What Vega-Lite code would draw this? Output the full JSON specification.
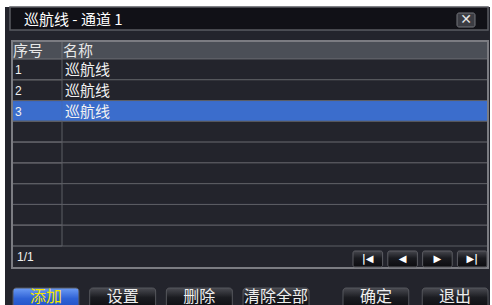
{
  "$schema": "https://vega.github.io/schema/vega-lite/v6.json",
  "width": 485,
  "height": 298,
  "autosize": {"type": "none"},
  "padding": {"left": 5, "top": 7, "right": 2, "bottom": 0},
  "background": "#ffffff",
  "view": {"fill": "#23242c", "stroke": null},
  "config": {"text": {"font": "Noto Sans CJK SC"}},
  "datasets": {
    "title": [{"text": "巡航线 - 通道 1"}],
    "close": [{"label": "✕"}],
    "header": [{"no": "序号", "name": "名称"}],
    "rows": [
      {"row": "1", "no": "1", "name": "巡航线", "selected": false},
      {"row": "2", "no": "2", "name": "巡航线", "selected": false},
      {"row": "3", "no": "3", "name": "巡航线", "selected": true},
      {"row": "4", "no": "", "name": "", "selected": false},
      {"row": "5", "no": "", "name": "", "selected": false},
      {"row": "6", "no": "", "name": "", "selected": false},
      {"row": "7", "no": "", "name": "", "selected": false},
      {"row": "8", "no": "", "name": "", "selected": false},
      {"row": "9", "no": "", "name": "", "selected": false}
    ],
    "pager": [{"page": "1/1"}],
    "nav": [
      {"btn": "first", "glyph": "|◀"},
      {"btn": "prev", "glyph": "◀"},
      {"btn": "next", "glyph": "▶"},
      {"btn": "last", "glyph": "▶|"}
    ],
    "buttons": [
      {"label": "添加", "selected": true},
      {"label": "设置", "selected": false},
      {"label": "删除", "selected": false},
      {"label": "清除全部", "selected": false},
      {"label": "确定", "selected": false},
      {"label": "退出", "selected": false}
    ]
  },
  "resolve": {"scale": {"x": "independent", "y": "independent"}},
  "layer": [
    {
      "data": {"name": "title"},
      "layer": [
        {
          "mark": {"type": "rect", "fill": "#111117", "stroke": "#5a5b62", "strokeWidth": 1.5},
          "encoding": {
            "x": {"datum": "bar", "type": "nominal", "axis": null, "scale": {"type": "band", "domain": ["bar"], "range": [5, 483], "paddingInner": 0, "paddingOuter": 0}},
            "y": {"datum": "bar", "type": "nominal", "axis": null, "scale": {"type": "band", "domain": ["bar"], "range": [0, 23], "paddingInner": 0, "paddingOuter": 0}}
          }
        },
        {
          "mark": {"type": "text", "align": "left", "baseline": "middle", "dx": 14, "dy": 1, "fontSize": 15, "fill": "#ffffff"},
          "encoding": {
            "x": {"datum": "bar", "type": "nominal", "axis": null, "bandPosition": 0, "scale": {"type": "band", "domain": ["bar"], "range": [5, 483], "paddingInner": 0, "paddingOuter": 0}},
            "y": {"datum": "bar", "type": "nominal", "axis": null, "scale": {"type": "band", "domain": ["bar"], "range": [0, 23], "paddingInner": 0, "paddingOuter": 0}},
            "text": {"field": "text"}
          }
        }
      ]
    },
    {
      "data": {"name": "close"},
      "layer": [
        {
          "mark": {"type": "rect", "fill": "#3b3c43", "stroke": "#75767c", "strokeWidth": 1, "cornerRadius": 2},
          "encoding": {
            "x": {"datum": "c", "type": "nominal", "axis": null, "scale": {"type": "band", "domain": ["c"], "range": [452, 470], "paddingInner": 0, "paddingOuter": 0}},
            "y": {"datum": "c", "type": "nominal", "axis": null, "scale": {"type": "band", "domain": ["c"], "range": [6, 20], "paddingInner": 0, "paddingOuter": 0}}
          }
        },
        {
          "mark": {"type": "text", "align": "center", "baseline": "middle", "fontSize": 14, "fontWeight": "bold", "font": "DejaVu Sans", "fill": "#e6e6e6"},
          "encoding": {
            "x": {"datum": "c", "type": "nominal", "axis": null, "scale": {"type": "band", "domain": ["c"], "range": [452, 470], "paddingInner": 0, "paddingOuter": 0}},
            "y": {"datum": "c", "type": "nominal", "axis": null, "scale": {"type": "band", "domain": ["c"], "range": [6, 20], "paddingInner": 0, "paddingOuter": 0}},
            "text": {"field": "label"}
          }
        }
      ]
    },
    {
      "data": {"name": "header"},
      "resolve": {"scale": {"x": "independent"}},
      "encoding": {
        "y": {"datum": "h", "type": "nominal", "axis": null, "scale": {"type": "band", "domain": ["h"], "range": [34, 52], "paddingInner": 0, "paddingOuter": 0}}
      },
      "layer": [
        {
          "mark": {"type": "rect", "fill": "#4b4f57", "stroke": "#6e7076", "strokeWidth": 1},
          "encoding": {
            "x": {"datum": "t", "type": "nominal", "axis": null, "scale": {"type": "band", "domain": ["t"], "range": [7, 483], "paddingInner": 0, "paddingOuter": 0}}
          }
        },
        {
          "mark": {"type": "rect", "fillOpacity": 0, "stroke": "#6e7076", "strokeWidth": 1},
          "encoding": {
            "x": {"datum": "c1", "type": "nominal", "axis": null, "scale": {"type": "band", "domain": ["c1"], "range": [7, 57], "paddingInner": 0, "paddingOuter": 0}}
          }
        },
        {
          "mark": {"type": "text", "align": "left", "baseline": "middle", "dx": 1, "dy": 1, "fontSize": 15, "fill": "#e8e8e8"},
          "encoding": {
            "x": {"datum": "c1", "type": "nominal", "axis": null, "bandPosition": 0, "scale": {"type": "band", "domain": ["c1"], "range": [7, 57], "paddingInner": 0, "paddingOuter": 0}},
            "text": {"field": "no"}
          }
        },
        {
          "mark": {"type": "text", "align": "left", "baseline": "middle", "dx": 1, "dy": 1, "fontSize": 15, "fill": "#e8e8e8"},
          "encoding": {
            "x": {"datum": "c2", "type": "nominal", "axis": null, "bandPosition": 0, "scale": {"type": "band", "domain": ["c2"], "range": [57, 483], "paddingInner": 0, "paddingOuter": 0}},
            "text": {"field": "name"}
          }
        }
      ]
    },
    {
      "data": {"name": "rows"},
      "resolve": {"scale": {"x": "independent"}},
      "encoding": {
        "y": {"field": "row", "type": "nominal", "axis": null, "scale": {"type": "band", "domain": ["1", "2", "3", "4", "5", "6", "7", "8", "9"], "range": [52, 239], "paddingInner": 0, "paddingOuter": 0}}
      },
      "layer": [
        {
          "mark": {"type": "rect", "stroke": "#5d5e64", "strokeWidth": 1},
          "encoding": {
            "x": {"datum": "t", "type": "nominal", "axis": null, "scale": {"type": "band", "domain": ["t"], "range": [7, 483], "paddingInner": 0, "paddingOuter": 0}},
            "fill": {"condition": {"test": "datum.selected", "value": "#3b6dcc"}, "value": "#23242c"}
          }
        },
        {
          "mark": {"type": "rect", "fillOpacity": 0, "stroke": "#5d5e64", "strokeWidth": 1},
          "encoding": {
            "x": {"datum": "c1", "type": "nominal", "axis": null, "scale": {"type": "band", "domain": ["c1"], "range": [7, 57], "paddingInner": 0, "paddingOuter": 0}},
            "strokeOpacity": {"condition": {"test": "datum.selected", "value": 0.2}, "value": 1}
          }
        },
        {
          "mark": {"type": "text", "align": "left", "baseline": "middle", "dx": 3, "dy": 1, "fontSize": 12, "font": "Liberation Sans", "fill": "#f2f2f2"},
          "encoding": {
            "x": {"datum": "c1", "type": "nominal", "axis": null, "bandPosition": 0, "scale": {"type": "band", "domain": ["c1"], "range": [7, 57], "paddingInner": 0, "paddingOuter": 0}},
            "text": {"field": "no"}
          }
        },
        {
          "mark": {"type": "text", "align": "left", "baseline": "middle", "dx": 3, "dy": 1, "fontSize": 15, "fill": "#f2f2f2"},
          "encoding": {
            "x": {"datum": "c2", "type": "nominal", "axis": null, "bandPosition": 0, "scale": {"type": "band", "domain": ["c2"], "range": [57, 483], "paddingInner": 0, "paddingOuter": 0}},
            "text": {"field": "name"}
          }
        }
      ]
    },
    {
      "data": {"name": "pager"},
      "layer": [
        {
          "mark": {"type": "rect", "fillOpacity": 0, "stroke": "#7b7c82", "strokeWidth": 2},
          "encoding": {
            "x": {"datum": "t", "type": "nominal", "axis": null, "scale": {"type": "band", "domain": ["t"], "range": [7, 483], "paddingInner": 0, "paddingOuter": 0}},
            "y": {"datum": "t", "type": "nominal", "axis": null, "scale": {"type": "band", "domain": ["t"], "range": [34, 261], "paddingInner": 0, "paddingOuter": 0}}
          }
        }
      ]
    },
    {
      "data": {"name": "pager"},
      "layer": [
        {
          "mark": {"type": "text", "align": "left", "baseline": "middle", "dx": 5, "fontSize": 12, "font": "Liberation Sans", "fill": "#f2f2f2"},
          "encoding": {
            "x": {"datum": "f", "type": "nominal", "axis": null, "bandPosition": 0, "scale": {"type": "band", "domain": ["f"], "range": [7, 483], "paddingInner": 0, "paddingOuter": 0}},
            "y": {"datum": "f", "type": "nominal", "axis": null, "scale": {"type": "band", "domain": ["f"], "range": [239, 261], "paddingInner": 0, "paddingOuter": 0}},
            "text": {"field": "page"}
          }
        }
      ]
    },
    {
      "data": {"name": "nav"},
      "encoding": {
        "x": {"field": "btn", "type": "nominal", "axis": null, "scale": {"type": "band", "domain": ["first", "prev", "next", "last"], "range": [348, 482], "paddingInner": 0.15, "paddingOuter": 0}},
        "y": {"datum": "n", "type": "nominal", "axis": null, "scale": {"type": "band", "domain": ["n"], "range": [244, 260], "paddingInner": 0, "paddingOuter": 0}}
      },
      "layer": [
        {
          "mark": {"type": "rect", "cornerRadius": 2, "stroke": "#5c5d63", "strokeWidth": 1,
            "fill": {"gradient": "linear", "x1": 0, "y1": 0, "x2": 0, "y2": 1, "stops": [{"offset": 0, "color": "#45464d"}, {"offset": 0.45, "color": "#1a1b20"}, {"offset": 1, "color": "#0c0c10"}]}}
        },
        {
          "mark": {"type": "text", "align": "center", "baseline": "middle", "fontSize": 10, "fontWeight": "bold", "font": "DejaVu Sans", "fill": "#ffffff"},
          "encoding": {"text": {"field": "glyph"}}
        }
      ]
    },
    {
      "data": {"name": "buttons"},
      "transform": [{"filter": {"field": "label", "oneOf": ["添加", "设置", "删除", "清除全部"]}}],
      "encoding": {
        "x": {"field": "label", "type": "nominal", "axis": null, "scale": {"type": "band", "domain": ["添加", "设置", "删除", "清除全部"], "range": [8, 304], "paddingInner": 0.14, "paddingOuter": 0}},
        "y": {"datum": "b", "type": "nominal", "axis": null, "scale": {"type": "band", "domain": ["b"], "range": [281, 302], "paddingInner": 0, "paddingOuter": 0}}
      },
      "layer": [
        {
          "mark": {"type": "rect", "cornerRadius": 3, "stroke": "#55565c", "strokeWidth": 1},
          "encoding": {
            "fill": {
              "condition": {"test": "datum.selected", "value": {"gradient": "linear", "x1": 0, "y1": 0, "x2": 0, "y2": 1, "stops": [{"offset": 0, "color": "#6d9cf5"}, {"offset": 0.5, "color": "#2f62d6"}, {"offset": 1, "color": "#1d4fc4"}]}},
              "value": {"gradient": "linear", "x1": 0, "y1": 0, "x2": 0, "y2": 1, "stops": [{"offset": 0, "color": "#4a4b52"}, {"offset": 0.45, "color": "#1b1c21"}, {"offset": 1, "color": "#0c0c10"}]}
            }
          }
        },
        {
          "mark": {"type": "text", "align": "center", "baseline": "middle", "fontSize": 16, "dy": -1.5},
          "encoding": {
            "text": {"field": "label"},
            "fill": {"condition": {"test": "datum.selected", "value": "#f4e600"}, "value": "#eeeeee"}
          }
        }
      ]
    },
    {
      "data": {"name": "buttons"},
      "transform": [{"filter": {"field": "label", "oneOf": ["确定", "退出"]}}],
      "encoding": {
        "x": {"field": "label", "type": "nominal", "axis": null, "scale": {"type": "band", "domain": ["确定", "退出"], "range": [338, 483], "paddingInner": 0.17, "paddingOuter": 0}},
        "y": {"datum": "b", "type": "nominal", "axis": null, "scale": {"type": "band", "domain": ["b"], "range": [281, 302], "paddingInner": 0, "paddingOuter": 0}}
      },
      "layer": [
        {
          "mark": {"type": "rect", "cornerRadius": 3, "stroke": "#55565c", "strokeWidth": 1,
            "fill": {"gradient": "linear", "x1": 0, "y1": 0, "x2": 0, "y2": 1, "stops": [{"offset": 0, "color": "#4a4b52"}, {"offset": 0.45, "color": "#1b1c21"}, {"offset": 1, "color": "#0c0c10"}]}}
        },
        {
          "mark": {"type": "text", "align": "center", "baseline": "middle", "fontSize": 16, "dy": -1.5, "fill": "#eeeeee"},
          "encoding": {"text": {"field": "label"}}
        }
      ]
    }
  ]
}
